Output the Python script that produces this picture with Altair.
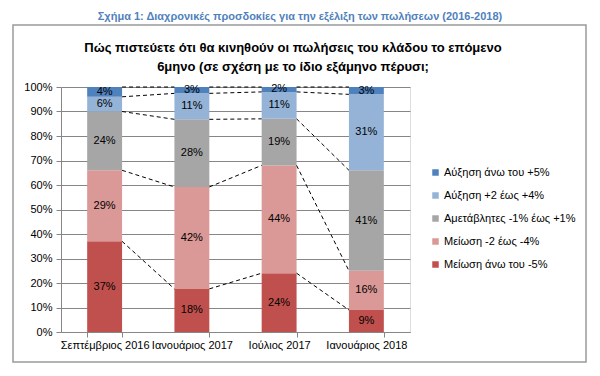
import altair as alt
import pandas as pd

categories = ["Σεπτέμβριος 2016", "Ιανουάριος 2017", "Ιούλιος 2017", "Ιανουάριος 2018"]
# series listed bottom -> top of stack
series = ["Μείωση άνω του -5%", "Μείωση -2 έως -4%", "Αμετάβλητες -1% έως +1%",
          "Αύξηση +2 έως +4%", "Αύξηση άνω του +5%"]
colors = ["#C0504D", "#DA9896", "#A6A6A6", "#95B3D7", "#4F81BD"]
values = {
    "Μείωση άνω του -5%":      [37, 17.6, 24, 9],
    "Μείωση -2 έως -4%":       [29, 41.6, 44, 16],
    "Αμετάβλητες -1% έως +1%": [24, 27.6, 19, 41],
    "Αύξηση +2 έως +4%":       [6, 10.6, 11, 31],
    "Αύξηση άνω του +5%":      [4, 2.6, 2, 3],
}
y_ticks = [0, 10, 20, 30, 40, 50, 60, 70, 80, 90, 100]
title_main = "Σχήμα 1: Διαχρονικές προσδοκίες για την εξέλιξη των πωλήσεων (2016-2018)"
title_q = ["Πώς πιστεύετε ότι θα κινηθούν οι πωλήσεις του κλάδου το επόμενο",
           "6μηνο (σε σχέση με το ίδιο εξάμηνο πέρυσι;"]

FONT = "Liberation Sans"

# bar segments
rows = []
cum_ends = []
for ci, cat in enumerate(categories):
    cum = 0.0
    ends = []
    for s in series:
        v = values[s][ci]
        rows.append({"cat": cat, "series": s, "start": cum, "end": cum + v,
                     "mid": cum + v / 2, "label": f"{round(v):d}%"})
        cum += v
        ends.append(cum)
    cum_ends.append(ends)
bars_df = pd.DataFrame(rows)

# connector lines
lines = []
for ci in range(len(categories) - 1):
    for k, s in enumerate(series):
        lines.append({"cat": categories[ci], "cat_next": categories[ci + 1],
                      "y": cum_ends[ci][k], "y2": cum_ends[ci + 1][k]})
lines_df = pd.DataFrame(lines)

xscale = alt.Scale(domain=categories, paddingInner=0.6, paddingOuter=0.3)
yscale = alt.Scale(domain=[0, 100])

x_axis = alt.Axis(labelAngle=0, tickBand="extent", labelFont=FONT, labelFontSize=11,
                  labelColor="#000000", domainColor="#868686", tickColor="#868686",
                  tickSize=5, labelPadding=2, labelOverlap=False, title=None)
y_axis = alt.Axis(values=y_ticks, labelExpr="datum.value + '%'", labelFont=FONT,
                  labelFontSize=11, labelColor="#000000", gridColor="#868686",
                  domainColor="#868686", tickColor="#868686", tickSize=5,
                  labelPadding=4, labelOverlap=False, title=None)

legend_order = list(reversed(series))
legend_colors = list(reversed(colors))

bars = alt.Chart(bars_df).mark_bar().encode(
    x=alt.X("cat:N", scale=xscale, sort=categories, axis=x_axis),
    y=alt.Y("start:Q", scale=yscale, axis=y_axis),
    y2="end:Q",
    color=alt.Color("series:N",
                    scale=alt.Scale(domain=legend_order, range=legend_colors),
                    legend=alt.Legend(title=None, orient="none", legendX=369, legendY=80,
                                      symbolType="square", symbolSize=42, symbolStrokeWidth=0,
                                      labelFont=FONT, labelFontSize=11, labelColor="#000000",
                                      rowPadding=11, labelOffset=3)),
)

texts = alt.Chart(bars_df).mark_text(font=FONT, fontSize=11, color="#000000").encode(
    x=alt.X("cat:N", scale=xscale, sort=categories, axis=x_axis),
    y=alt.Y("mid:Q", scale=yscale, axis=y_axis),
    text="label:N",
)

rules = alt.Chart(lines_df).mark_rule(color="#000000", strokeDash=[4, 3], strokeWidth=1).encode(
    x=alt.X("cat:N", scale=xscale, sort=categories, bandPosition=1, axis=x_axis),
    x2=alt.X2("cat_next:N", bandPosition=0),
    y=alt.Y("y:Q", scale=yscale, axis=y_axis),
    y2="y2:Q",
)

frame = alt.Chart(pd.DataFrame({"a": [0]})).mark_rect(
    fill=None, stroke="#9a9a9a", strokeWidth=1.5, clip=False
).encode(x=alt.value(-48), x2=alt.value(525), y=alt.value(-62), y2=alt.value(275))

t_main = alt.Chart(pd.DataFrame({"t": [title_main]})).mark_text(
    font=FONT, fontSize=11, fontWeight="bold", color="#4F81BD", clip=False
).encode(x=alt.value(239), y=alt.value(-70), text="t:N")

t_q1 = alt.Chart(pd.DataFrame({"t": [title_q[0]]})).mark_text(
    font=FONT, fontSize=13, fontWeight="bold", color="#000000", clip=False
).encode(x=alt.value(232), y=alt.value(-39), text="t:N")

t_q2 = alt.Chart(pd.DataFrame({"t": [title_q[1]]})).mark_text(
    font=FONT, fontSize=13, fontWeight="bold", color="#000000", clip=False
).encode(x=alt.value(232), y=alt.value(-20), text="t:N")

chart = alt.layer(frame, bars, rules, texts, t_main, t_q1, t_q2).properties(
    width=349, height=245,
    autosize=alt.AutoSizeParams(type="none"),
    padding={"left": 61, "top": 87, "right": 190, "bottom": 44},
).configure_view(stroke=None).configure(background="white")

chart.save("out.html", embed_options={"renderer": "svg", "actions": False})
